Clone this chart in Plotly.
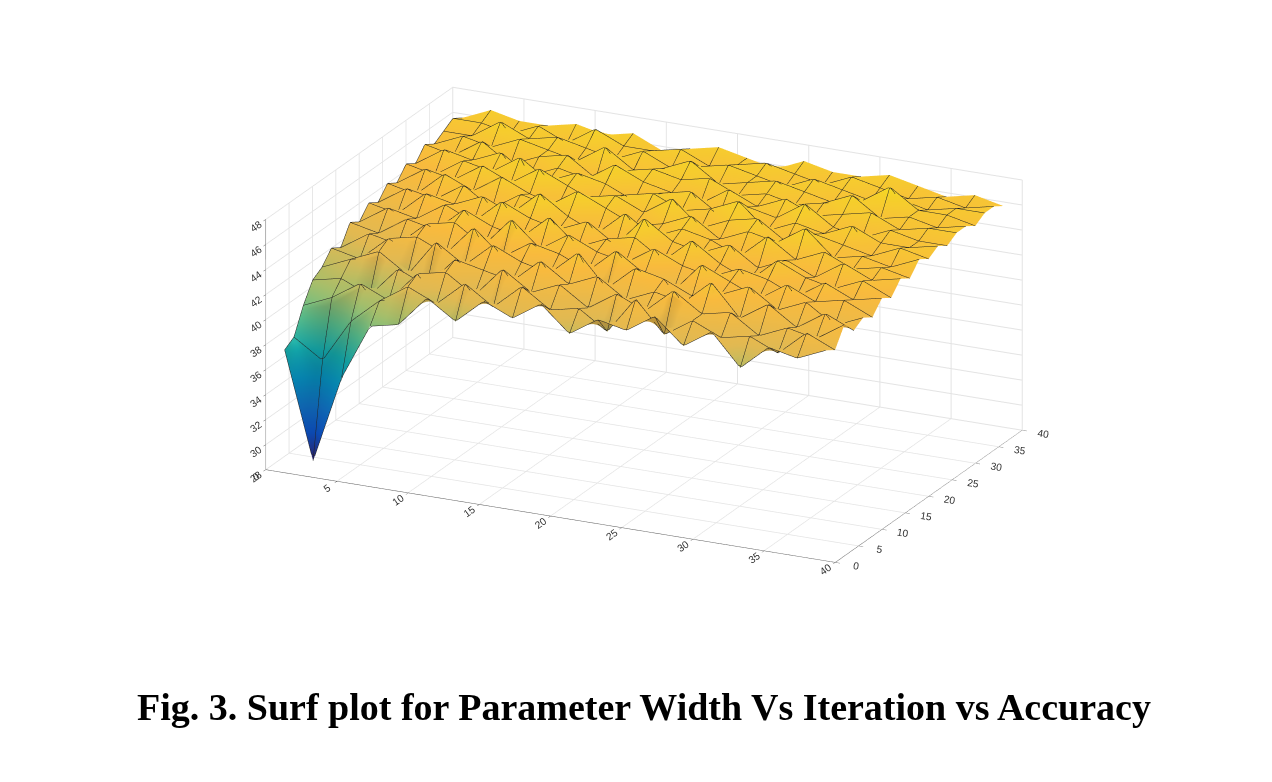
import plotly.graph_objects as go

# grid of parameter width (x) and iteration (y)
width = [1, 3, 5, 7, 9, 11, 13, 15, 17, 19, 21, 23, 25, 27, 29, 31, 33, 35, 37, 39]
iteration = [1, 3, 5, 7, 9, 11, 13, 15, 17, 19, 21, 23, 25, 27, 29, 31, 33, 35, 37, 39]

# accuracy values, one row per iteration value
accuracy = [
    [37.5, 29.0, 36.0, 40.5, 41.0, 43.5, 42.0, 44.0, 43.0, 44.5, 42.5, 44.0, 43.5, 45.0, 43.0, 44.5, 42.0, 44.0, 43.5, 44.5],
    [38.0, 36.5, 40.0, 42.0, 43.5, 42.5, 44.5, 43.0, 45.0, 43.5, 44.0, 42.5, 45.5, 43.0, 44.5, 43.5, 44.0, 43.0, 45.0, 44.0],
    [40.0, 41.0, 42.5, 41.5, 44.0, 44.5, 43.0, 45.5, 44.0, 45.0, 43.5, 45.0, 44.0, 46.0, 44.5, 45.0, 43.5, 44.5, 44.0, 45.5],
    [41.5, 42.0, 41.0, 43.5, 42.5, 45.0, 44.5, 44.0, 46.0, 44.5, 45.5, 44.0, 45.0, 44.5, 46.5, 44.0, 45.5, 44.0, 45.5, 44.5],
    [42.0, 43.0, 44.0, 42.5, 45.5, 44.0, 46.0, 45.0, 44.5, 46.5, 44.0, 46.0, 45.5, 44.5, 45.0, 46.0, 44.5, 45.5, 44.0, 45.0],
    [43.0, 42.5, 44.5, 45.0, 44.0, 46.5, 44.5, 46.0, 45.5, 44.5, 46.5, 45.0, 44.0, 46.5, 45.5, 44.5, 46.0, 45.0, 45.5, 44.5],
    [42.5, 44.0, 43.5, 45.5, 46.0, 44.5, 47.0, 45.0, 46.5, 45.5, 45.0, 46.5, 45.5, 45.0, 46.0, 45.5, 44.5, 46.0, 45.0, 45.5],
    [44.0, 43.5, 45.0, 44.5, 46.5, 45.5, 45.0, 47.0, 45.0, 46.0, 46.5, 45.0, 47.0, 45.5, 44.5, 46.5, 45.5, 45.0, 46.0, 45.0],
    [43.5, 45.0, 44.5, 46.0, 45.0, 47.0, 46.0, 45.5, 46.5, 45.0, 47.5, 46.0, 45.5, 46.5, 45.0, 46.0, 45.0, 46.5, 45.5, 46.0],
    [44.5, 44.0, 46.0, 45.5, 46.5, 45.5, 47.5, 46.0, 45.0, 47.0, 45.5, 46.5, 46.0, 45.0, 47.0, 45.5, 46.5, 45.5, 46.0, 45.5],
    [44.0, 45.5, 45.0, 46.5, 45.0, 46.5, 46.0, 47.5, 46.5, 45.5, 46.0, 47.0, 45.5, 46.5, 46.0, 47.5, 45.5, 46.0, 45.5, 46.5],
    [45.0, 44.5, 46.5, 45.5, 47.0, 46.0, 45.5, 46.5, 47.0, 46.0, 47.5, 45.5, 46.5, 47.0, 45.5, 46.5, 46.0, 45.5, 46.5, 46.0],
    [44.5, 46.0, 45.5, 47.0, 46.0, 47.5, 46.5, 45.5, 46.5, 47.0, 46.0, 46.5, 47.5, 45.5, 46.5, 46.0, 47.0, 46.0, 46.0, 46.5],
    [45.5, 45.0, 46.5, 46.0, 47.5, 46.0, 47.0, 46.5, 45.5, 46.5, 47.0, 45.5, 46.5, 46.0, 47.5, 46.0, 45.5, 46.5, 46.0, 46.0],
    [45.0, 46.5, 46.0, 47.0, 45.5, 46.5, 46.0, 47.5, 46.5, 46.0, 45.5, 47.0, 46.0, 47.0, 46.0, 46.5, 47.0, 46.0, 46.5, 46.5],
    [46.0, 45.5, 47.0, 45.5, 46.5, 47.0, 45.5, 46.5, 47.0, 46.5, 47.0, 46.0, 46.5, 46.0, 46.5, 47.5, 46.0, 46.5, 46.0, 46.5],
    [45.5, 46.5, 46.0, 47.0, 46.5, 46.0, 47.5, 46.0, 46.5, 47.5, 46.0, 46.5, 47.0, 46.5, 46.0, 46.5, 48.0, 46.5, 46.5, 46.0],
    [46.0, 46.0, 47.5, 46.5, 47.0, 46.5, 46.0, 47.0, 46.0, 46.5, 47.0, 46.5, 46.0, 47.0, 46.5, 46.0, 46.5, 46.0, 46.5, 46.5],
    [46.5, 46.5, 46.0, 47.0, 46.0, 47.5, 46.5, 46.5, 47.0, 46.0, 46.5, 47.0, 46.5, 46.0, 47.0, 46.5, 46.0, 46.5, 46.0, 46.5],
    [46.0, 47.0, 46.5, 46.5, 47.0, 46.5, 47.0, 46.0, 46.5, 47.0, 46.5, 46.0, 47.0, 46.5, 46.5, 47.0, 46.5, 46.0, 46.5, 46.0],
]

# MATLAB parula colormap (sampled)
parula = [
    [0.00, "rgb(53,42,135)"], [0.10, "rgb(15,92,221)"], [0.20, "rgb(18,125,216)"],
    [0.30, "rgb(7,156,207)"], [0.40, "rgb(21,177,180)"], [0.50, "rgb(89,189,140)"],
    [0.60, "rgb(165,190,107)"], [0.70, "rgb(225,185,82)"], [0.80, "rgb(248,186,62)"],
    [0.90, "rgb(245,210,40)"], [1.00, "rgb(249,251,14)"],
]

fig = go.Figure()
fig.add_trace(go.Surface(
    x=width, y=iteration, z=accuracy,
    colorscale=parula, cmin=29, cmax=49.5, showscale=False,
    lighting=dict(ambient=0.8, diffuse=0.45, specular=0.05, roughness=0.9),
    contours=dict(
        x=dict(show=True, color="#222", width=1, start=1, end=39, size=2),
        y=dict(show=True, color="#222", width=1, start=1, end=39, size=2),
    ),
))

axis_style = dict(
    showbackground=False, gridcolor="#e3e3e3", linecolor="#555", showline=True,
    tickfont=dict(family="Liberation Sans", size=11, color="#333"),
    title=dict(text=""), zeroline=False, ticks="outside", tickcolor="#555",
)

fig.update_layout(
    width=1272, height=782,
    paper_bgcolor="white",
    margin=dict(l=0, r=0, t=0, b=0),
    scene=dict(
        domain=dict(x=[0.0, 1.0], y=[0.15, 1.0]),
        xaxis=dict(range=[0, 40], dtick=5, **axis_style),
        yaxis=dict(range=[0, 40], dtick=5, **axis_style),
        zaxis=dict(range=[28, 48], dtick=2, **axis_style),
        aspectmode="manual",
        aspectratio=dict(x=1.9, y=1.3, z=0.8),
        camera=dict(eye=dict(x=0.72, y=-1.5, z=0.55), center=dict(x=0, y=0, z=-0.05),
                    projection=dict(type="orthographic")),
    ),
    annotations=[dict(
        text="<b>Fig. 3. Surf plot for Parameter Width Vs Iteration vs Accuracy</b>",
        x=0.5, y=0.077, xref="paper", yref="paper", showarrow=False,
        font=dict(family="Liberation Serif", size=38, color="black"),
    )],
)

fig.write_html("out.html")
